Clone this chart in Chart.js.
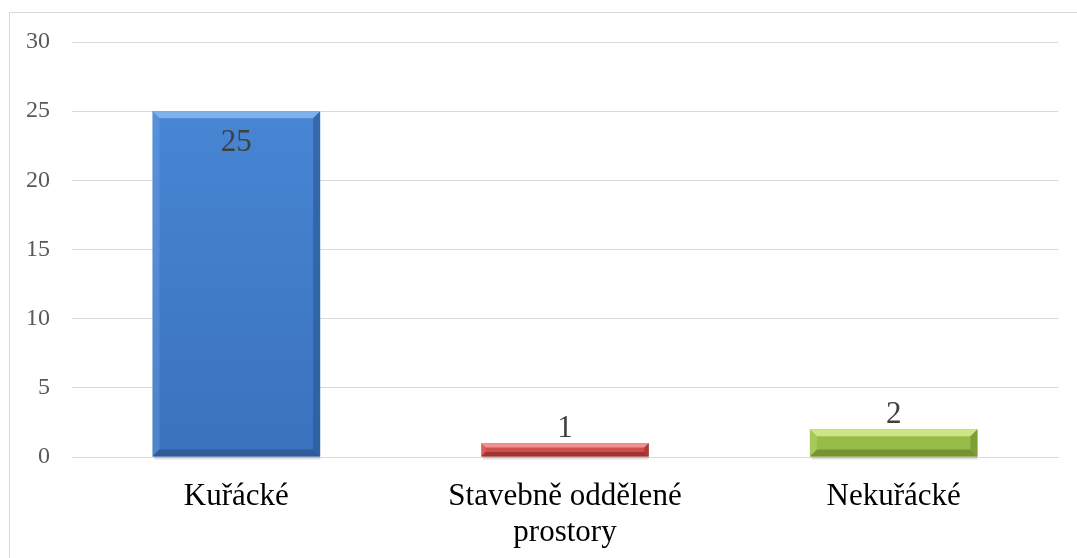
<!DOCTYPE html>
<html>
<head>
<meta charset="utf-8">
<script src="https://cdn.jsdelivr.net/npm/chart.js@4"></script>
<style>
  html, body { margin: 0; padding: 0; background: #fff; }
  #wrap { position: relative; width: 1077px; height: 558px; overflow: hidden; }
  #frame { position: absolute; left: 9px; top: 12px; width: 1100px; height: 600px; border: 1px solid #d9d9d9; box-sizing: border-box; }
  canvas { position: absolute; left: 0; top: 0; }
</style>
</head>
<body>
<div id="wrap">
  <div id="frame"></div>
  <canvas id="chart" width="1077" height="558"></canvas>
</div>
<script>
// data
const categories = ['Kuřácké', ['Stavebně oddělené', 'prostory'], 'Nekuřácké'];
const values = [25, 1, 2];
const yTicks = [0, 5, 10, 15, 20, 25, 30];

// face colour, light bevel, dark bevel per bar
const faceTop = ['#4a8ad8', '#e05a57', '#a9cc55'];
const faceBottom = ['#3a72bd', '#cf4d4a', '#98bb48'];
const lightEdge = ['#7cb1ee', '#f59090', '#cde685'];
const darkEdge = ['#2a568f', '#8f2f2d', '#6d8a2c'];

const serif = '"Liberation Serif", "Times New Roman", serif';

const bevelPlugin = {
  id: 'bevel',
  afterDatasetsDraw(chart) {
    const ctx = chart.ctx;
    chart.getDatasetMeta(0).data.forEach((bar, i) => {
      const l = bar.x - bar.width / 2, r = bar.x + bar.width / 2;
      const t = bar.y, b = bar.base;
      const h = b - t;
      const e = Math.min(7, h / 3);
      ctx.save();
      // shadow line under bar
      ctx.fillStyle = 'rgba(0,0,0,0.12)';
      ctx.fillRect(l + 2, b, bar.width - 2, 3);
      // top bevel
      ctx.fillStyle = lightEdge[i];
      ctx.beginPath();
      ctx.moveTo(l, t); ctx.lineTo(r, t); ctx.lineTo(r - e, t + e); ctx.lineTo(l + e, t + e); ctx.closePath();
      ctx.fill();
      // left bevel
      ctx.globalAlpha = 0.3;
      ctx.fillStyle = lightEdge[i];
      ctx.beginPath();
      ctx.moveTo(l, t); ctx.lineTo(l + e, t + e); ctx.lineTo(l + e, b - e); ctx.lineTo(l, b); ctx.closePath();
      ctx.fill();
      // right bevel
      ctx.globalAlpha = 0.6;
      ctx.fillStyle = darkEdge[i];
      ctx.beginPath();
      ctx.moveTo(r, t); ctx.lineTo(r - e, t + e); ctx.lineTo(r - e, b - e); ctx.lineTo(r, b); ctx.closePath();
      ctx.fill();
      // bottom bevel
      ctx.globalAlpha = 0.8;
      ctx.beginPath();
      ctx.moveTo(l, b); ctx.lineTo(l + e, b - e); ctx.lineTo(r - e, b - e); ctx.lineTo(r, b); ctx.closePath();
      ctx.fill();
      ctx.restore();
    });
  }
};

const labelPlugin = {
  id: 'barLabels',
  afterDatasetsDraw(chart) {
    const ctx = chart.ctx;
    const area = chart.chartArea;
    ctx.save();
    ctx.font = '31px ' + serif;
    ctx.fillStyle = '#404040';
    ctx.textAlign = 'center';
    ctx.textBaseline = 'middle';
    chart.getDatasetMeta(0).data.forEach((bar, i) => {
      // outside end, unless the bar reaches high up, then inside end
      const inside = bar.y - area.top < (area.bottom - area.top) * 0.25;
      const y = inside ? bar.y + 32 : bar.y - 14;
      ctx.fillText(String(values[i]), bar.x, y);
    });
    ctx.restore();
  }
};

new Chart(document.getElementById('chart'), {
  type: 'bar',
  data: {
    labels: categories,
    datasets: [{
      data: values,
      backgroundColor: (c) => {
        const chart = c.chart;
        const area = chart.chartArea;
        if (!area) return faceTop[c.dataIndex];
        const g = chart.ctx.createLinearGradient(0, area.top, 0, area.bottom);
        g.addColorStop(0, faceTop[c.dataIndex]);
        g.addColorStop(1, faceBottom[c.dataIndex]);
        return g;
      },
      borderWidth: 0,
      categoryPercentage: 1,
      barPercentage: 0.51
    }]
  },
  options: {
    responsive: false,
    animation: false,
    layout: { padding: { top: 42, right: 19, left: 0, bottom: 0 } },
    plugins: { legend: { display: false }, tooltip: { enabled: false } },
    scales: {
      x: {
        grid: { display: false, drawTicks: false },
        border: { color: '#d9d9d9', width: 1 },
        ticks: {
          color: '#000',
          font: { family: serif, size: 31, lineHeight: 1.16 },
          padding: 22,
          maxRotation: 0,
          autoSkip: false
        },
        afterFit(scale) { scale.height = 101; }
      },
      y: {
        min: 0,
        max: 30,
        afterBuildTicks(scale) { scale.ticks = yTicks.map(v => ({ value: v })); },
        grid: { color: '#d9d9d9', lineWidth: 1, drawTicks: false },
        border: { display: false },
        ticks: {
          color: '#595959',
          font: { family: serif, size: 24 },
          padding: 22
        },
        afterFit(scale) { scale.width = 72; }
      }
    }
  },
  plugins: [bevelPlugin, labelPlugin]
});
</script>
</body>
</html>
